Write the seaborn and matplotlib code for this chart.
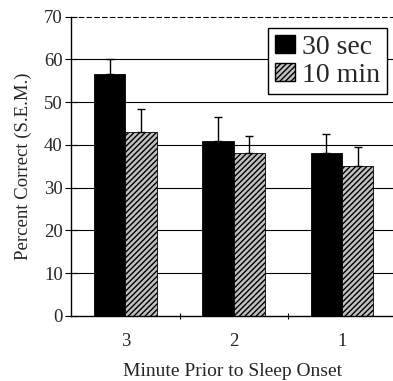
import matplotlib
matplotlib.use("Agg")
import matplotlib.pyplot as plt
import seaborn as sns
import pandas as pd
from matplotlib.patches import Patch

minutes = ["3", "2", "1"]
conditions = ["30 sec", "10 min"]
means_30s = [56.5, 41.0, 38.0]
means_10m = [43.0, 38.0, 35.0]
sem_30s = [3.5, 5.5, 4.5]
sem_10m = [5.5, 4.0, 4.5]

df = pd.DataFrame({
    "minute": minutes * 2,
    "cond": [conditions[0]] * 3 + [conditions[1]] * 3,
    "pct": means_30s + means_10m,
    "sem": sem_30s + sem_10m,
})

sns.set_theme(style="white")
plt.rcParams["font.family"] = ["Liberation Serif", "DejaVu Serif"]
plt.rcParams["hatch.linewidth"] = 1.0
plt.rcParams["hatch.color"] = "#222222"

fig = plt.figure(figsize=(3.93, 3.81), dpi=100)
ax = fig.add_axes([0.181, 0.171, 0.819, 0.785])

colors = {"30 sec": "black", "10 min": "#c0c0c0"}
sns.barplot(data=df, x="minute", y="pct", hue="cond", order=minutes,
            hue_order=conditions, palette=colors, errorbar=None,
            width=0.58, ax=ax, legend=False, saturation=1,
            edgecolor="black", linewidth=0.6, zorder=2)

n = len(minutes)
bars = ax.patches[:2 * n]
for i, b in enumerate(bars):
    cond_idx = i // n
    if cond_idx == 1:
        b.set_hatch("//////")
    sems = sem_30s if cond_idx == 0 else sem_10m
    x = b.get_x() + b.get_width() / 2
    h = b.get_height()
    ax.errorbar([x], [h], yerr=[[0], [sems[i % n]]], fmt="none",
                ecolor="black", elinewidth=1.0, capsize=3, capthick=1.0, zorder=3)

ax.set_xlim(-0.5, 2.47)
ax.set_ylim(0, 70)
ax.set_yticks(range(0, 71, 10))
for yv in range(10, 61, 10):
    ax.axhline(yv, color="black", lw=0.8, zorder=1)
ax.set_axisbelow(True)

ax.set_xticks([0, 1, 2])
ax.set_xticklabels(minutes)
ax.set_xticks([0.5, 1.5], minor=True)
ax.tick_params(axis="x", which="major", length=0, pad=12, labelsize=13.5)
ax.tick_params(axis="x", which="minor", length=5, direction="inout", width=0.8, color="black")
ax.tick_params(axis="y", length=8, direction="inout", width=0.8, color="black", labelsize=13.5, pad=2)
ax.xaxis.set_tick_params(bottom=True, which="minor")
ax.yaxis.set_tick_params(left=True)

for s in ["left", "bottom"]:
    ax.spines[s].set_color("black")
    ax.spines[s].set_linewidth(1.0)
ax.spines["right"].set_visible(False)
ax.spines["top"].set_color("black")
ax.spines["top"].set_linewidth(0.8)
ax.spines["top"].set_linestyle((0, (4, 3)))

ax.set_xlabel("Minute Prior to Sleep Onset", fontsize=14, labelpad=10)
ax.set_ylabel("Percent Correct (S.E.M.)", fontsize=13.5, labelpad=9)

handles = [Patch(facecolor="black", edgecolor="black", label=conditions[0]),
           Patch(facecolor="#c0c0c0", edgecolor="black", hatch="//////", label=conditions[1])]
leg = ax.legend(handles=handles, loc="upper right", bbox_to_anchor=(0.981, 0.963),
                fontsize=20, frameon=True, fancybox=False, handlelength=0.7,
                handleheight=0.6, handletextpad=0.25, borderpad=0.25, labelspacing=0.1,
                borderaxespad=0)
leg.get_frame().set_edgecolor("black")
leg.get_frame().set_linewidth(1.0)
leg.get_frame().set_facecolor("white")
leg.get_frame().set_alpha(1)

fig.savefig("out.png", dpi=100)
